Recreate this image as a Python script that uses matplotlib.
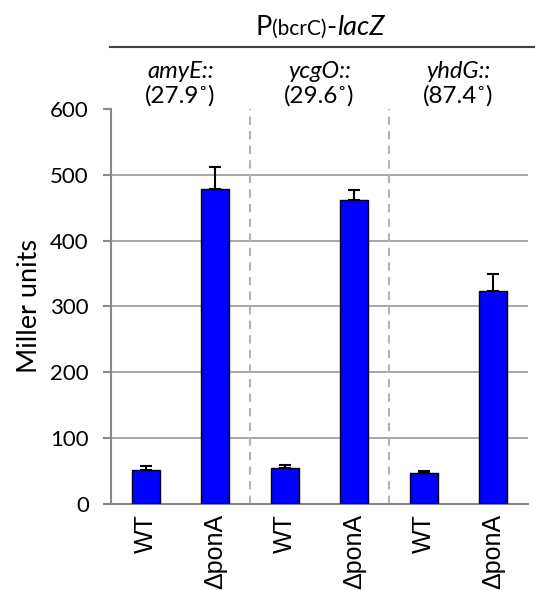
import numpy as np
import matplotlib.pyplot as plt

strains = ['WT', 'ΔponA', 'WT', 'ΔponA', 'WT', 'ΔponA']
miller = [52, 478, 55, 462, 48, 324]
err = [6, 33, 4, 15, 3, 26]
loci = ['amyE::', 'ycgO::', 'yhdG::']
angles = ['(27.9˚)', '(29.6˚)', '(87.4˚)']
yticks = [0, 100, 200, 300, 400, 500, 600]

fig = plt.figure(figsize=(5.35, 5.9), dpi=100)
ax = fig.add_axes([0.2075, 0.1453, 0.7795, 0.6705])

x = np.arange(len(miller))
ax.bar(x, miller, width=0.4, color='#0000ff', edgecolor='black', linewidth=1, zorder=3)
ax.errorbar(x, miller, yerr=[np.zeros(len(err)), err], fmt='none', ecolor='black',
            elinewidth=1.5, capsize=4.5, capthick=1.5, zorder=4)

ax.set_xlim(-0.5, 5.5)
ax.set_ylim(0, 600)
ax.set_yticks(yticks)
ax.yaxis.grid(True, color='#a0a0a0', linewidth=1.3, zorder=0)
ax.yaxis.get_gridlines()[-1].set_visible(False)
ax.set_axisbelow(True)

for xs in [1.5, 3.5]:
    ax.axvline(xs, color='#b4b4b4', linestyle=(0, (4, 3)), linewidth=1.5, zorder=1)

for s in ['top', 'right']:
    ax.spines[s].set_visible(False)
for s in ['left', 'bottom']:
    ax.spines[s].set_color('#888888')
    ax.spines[s].set_linewidth(1.5)

ax.set_xticks(x)
ax.set_xticklabels(strains, rotation=90, fontsize=18, family='Liberation Sans')
ax.tick_params(axis='x', length=0, pad=7)
ax.tick_params(axis='y', length=6, width=1.5, color='#888888', labelsize=16, pad=10)
for lbl in ax.get_yticklabels():
    lbl.set_family('Lato')
ax.set_ylabel('Miller units', fontsize=19.5, family='Lato', labelpad=6)

# group headers above the plot
for i, (loc, ang) in enumerate(zip(loci, angles)):
    cx = 2 * i + 0.5
    ax.text(cx, 1.095, loc, transform=ax.get_xaxis_transform(), ha='center', va='center',
            fontsize=17, style='italic', family='Lato')
    ax.text(cx, 1.032, ang, transform=ax.get_xaxis_transform(), ha='center', va='center',
            fontsize=17.5, family='Lato')

fig.add_artist(plt.Line2D([0.206, 1.0], [0.9203, 0.9203], color='#404040', linewidth=1.5))

# title built from pieces laid side by side on a common baseline
pieces = [('P', 19.5, 'normal'), ('(bcrC)', 15, 'normal'), ('-', 19.5, 'normal'), ('lacZ', 19.5, 'italic')]
fig.canvas.draw()
renderer = fig.canvas.get_renderer()
arts = [fig.text(0, 0.9407, s, fontsize=fs, style=st, family='Lato', va='baseline', ha='left')
        for s, fs, st in pieces]
widths = [a.get_window_extent(renderer).width for a in arts]
W = fig.bbox.width
xpos = (320 - sum(widths) / 2) / W
for a, w in zip(arts, widths):
    a.set_x(xpos)
    xpos += w / W

fig.savefig('out.png', dpi=100)
